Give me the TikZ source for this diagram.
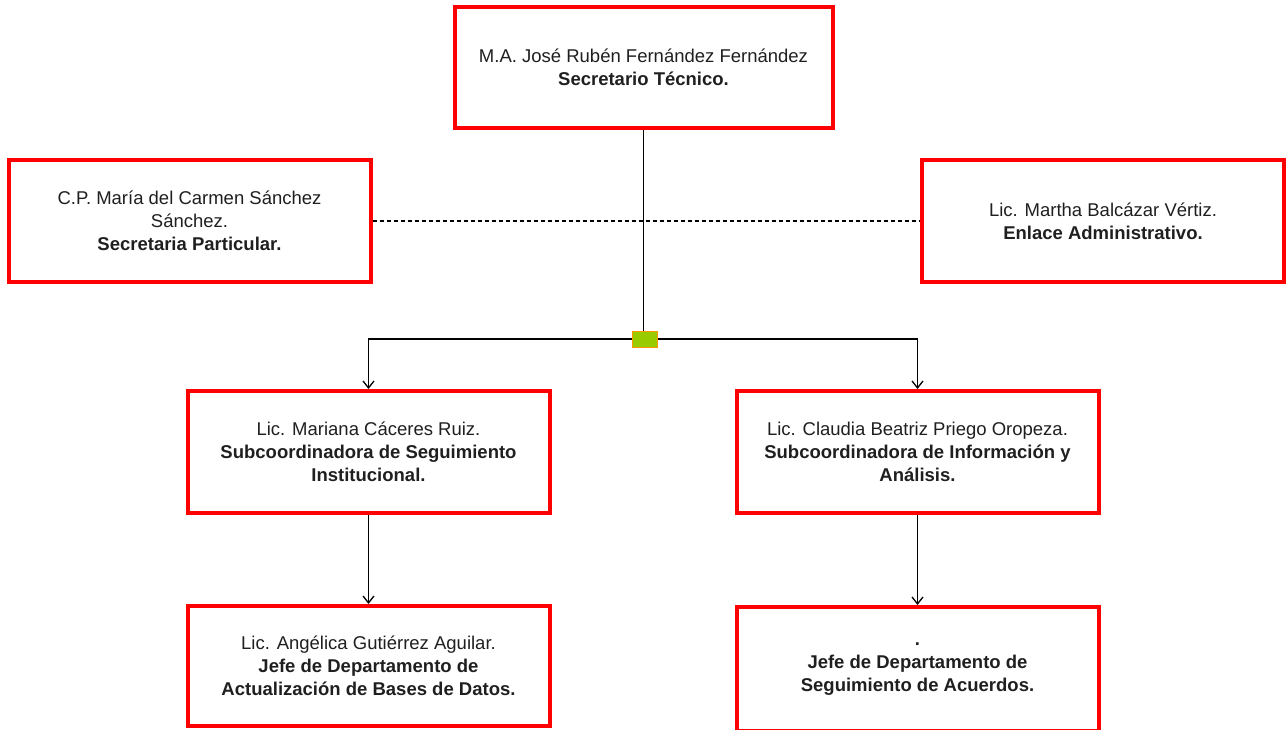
\documentclass[tikz,border=0pt]{standalone}
\usepackage{fontspec}
\setmainfont{Liberation Sans}
\usetikzlibrary{arrows.meta,positioning}
\definecolor{hubgreen}{RGB}{153,204,0}
\definecolor{hubedge}{RGB}{255,153,0}

\begin{document}
\begin{tikzpicture}[
  x=1pt, y=-1pt,
  font=\fontsize{18.5}{23}\selectfont,
  box/.style={draw=red, line width=4pt, align=center, minimum width=362pt, minimum height=122pt, inner sep=4pt, text=black!88},
  hub/.style={draw=hubedge, fill=hubgreen, line width=1pt, minimum width=25pt, minimum height=16pt, inner sep=0pt},
  link/.style={line width=1.3pt},
  arrow/.style={link, -{Straight Barb[length=7pt,width=11pt]}}
]

\useasboundingbox (0,0) rectangle (1287,729);

\node[box, minimum width=378pt, minimum height=121pt] (tec) at (643.5,67.5) {
  M.A. José Rubén Fernández Fernández\\
  \textbf{Secretario Técnico.}
};
\node[box] (part) at (189.5,221) {
  C.P. María del Carmen Sánchez\\
  Sánchez.\\
  \textbf{Secretaria Particular.}
};
\node[box] (enlace) at (1103,221) {
  Lic. Martha Balcázar Vértiz.\\
  \textbf{Enlace Administrativo.}
};

\node[hub] (hub) at (644.5,339) {};

\node[box] (seg) at (368.5,452) {
  Lic. Mariana Cáceres Ruiz.\\
  \textbf{Subcoordinadora de Seguimiento}\\
  \textbf{Institucional.}
};
\node[box] (info) at (917.5,452) {
  Lic. Claudia Beatriz Priego Oropeza.\\
  \textbf{Subcoordinadora de Información y}\\
  \textbf{Análisis.}
};

\node[box, minimum height=120pt, below=89pt of seg] (bases) {
  Lic. Angélica Gutiérrez Aguilar.\\
  \textbf{Jefe de Departamento de}\\
  \textbf{Actualización de Bases de Datos.}
};
\node[box, minimum height=124pt, below=90pt of info] (acuerdos) {
  \textbf{.}\\
  \textbf{Jefe de Departamento de}\\
  \textbf{Seguimiento de Acuerdos.}
};

\draw[link, dash pattern=on 4pt off 3pt] (part) -- (enlace);
\draw[link] (tec.south) -- (tec.south |- hub.north);
\draw[arrow] (hub.west) -| (seg.north);
\draw[arrow] (hub.east) -| (info.north);
\draw[arrow] (seg) -- (bases);
\draw[arrow] (info) -- (acuerdos);

\end{tikzpicture}
\end{document}
